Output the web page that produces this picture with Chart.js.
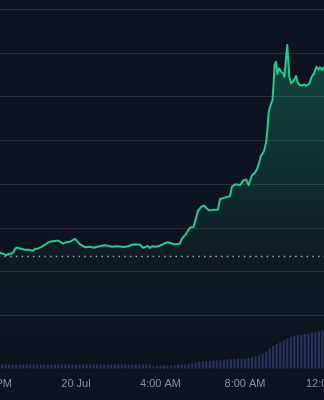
<!DOCTYPE html>
<html><head><meta charset="utf-8">
<script src="https://cdn.jsdelivr.net/npm/chart.js@4.4.1/dist/chart.umd.min.js"></script>
<style>
html,body{margin:0;padding:0;background:#0d1320;overflow:hidden;width:324px;height:400px;}
#wrap{position:absolute;left:-60px;top:0;width:444px;height:400px;}
</style></head><body>
<div id="wrap"><canvas id="c"></canvas></div>
<script>
// minutes relative to 20 Jul 00:00
const times = [-226,-216,-207,-199,-190,-182,-176,-173,-168,-156,-145,-136,-128,-122,-116,-108,-97,-88,-80,-74,-65,-57,-51,-45,-37,-28,-17,-9,-3,3,11,20,28,37,45,51,60,68,80,91,102,114,125,136,148,159,170,182,190,199,204,210,216,224,233,244,253,261,270,278,287,295,301,310,318,325,334,339,346,355,364,369,378,389,403,409,417,429,437,443,452,460,466,476,483,490,494,500,508,514,520,525,534,540,544,547,551,558,561,564,568,572,577,582,588,592,596,600,603,606,611,616,622,625,629,635,642,648,653,662,669,676,683,689,693,699,704,712];
const prices = [104.3,104.35,104.16,103.82,104.16,104.16,104.74,105.35,105.58,105.31,105.08,105.08,104.97,104.85,105.31,105.31,105.77,106.22,106.68,106.91,107.03,107.14,107.14,106.91,106.45,106.80,106.91,107.25,107.60,107.03,106.34,105.88,105.65,105.77,105.65,105.54,105.77,105.88,106.11,106.00,105.77,105.88,105.81,105.72,105.88,106.22,106.34,106.22,105.54,105.77,105.93,105.49,105.88,105.77,105.88,106.22,106.57,106.80,106.57,106.34,106.34,106.50,107.64,108.40,109.43,110.16,110.30,111.83,113.89,114.81,115.19,114.69,114.12,114.16,114.28,116.64,116.86,117.16,117.32,119.45,120.07,119.95,119.84,120.98,121.14,119.84,120.76,122.13,122.65,123.50,124.94,126.48,127.62,129.68,132.88,136.32,137.76,139.29,142.72,147.30,148.05,145.24,146.54,145.81,145.40,144.62,148.44,151.88,147.99,144.55,143.11,143.48,144.32,144.78,143.41,142.72,142.61,142.88,142.56,142.95,144.55,145.40,146.91,146.27,146.77,146.16,146.84,146.6];

const volTimes = [-220,-210,-200,-190,-180,-170,-160,-150,-140,-130,-120,-110,-100,-90,-80,-70,-60,-50,-40,-30,-20,-10,0,10,20,30,40,50,60,70,80,90,100,110,120,130,140,150,160,170,180,190,200,210,220,230,240,250,260,270,280,290,300,310,320,330,340,350,360,370,380,390,400,410,420,430,440,450,460,470,480,490,500,510,520,530,540,550,560,570,580,590,600,610,620,630,640,650,660,670,680,690,700];
const volumes = [43,43,43,43,43,43,43,43,43,43,43,43,43,43,43,43,43,43,43,43,43,43,43,43,43,43,43,43,43,43,43,43,43,43,43,43,43,43,43,43,43,43,43,43,30,30,30,33,33,33,35,40,40,42,50,55,62,70,72,75,78,82,84,86,90,92,95,98,100,100,102,108,113,122,135,148,173,200,227,248,267,285,300,317,332,338,343,348,350,357,365,373,383];

const prevClose = 103.5;
const gridValues = [90,100,110,120,130,140,150,160];
const tickMinutes = [-240,0,240,480,720];
const tickLabels = ['8:00 PM','20 Jul','4:00 AM','8:00 AM','12:00 PM'];

// horizontal calibration: canvas pixel of 20 Jul 00:00 and minutes per pixel
const X0 = 136, MIN_PER_PX = 2.84;
const xMin = -386.2, xMax = 874.7;
const plotH = 368.5;
const yMax = 100 + 271.7/4.37;
const yMin = yMax - plotH/4.37;
const volMax = plotH*10;

const lineData = times.map((t,i)=>({x:t,y:prices[i]}));
const volData = volTimes.map((t,i)=>({x:t,y:volumes[i]}));

function fillGrad(context){
  const {ctx, chartArea} = context.chart;
  if(!chartArea) return 'rgba(0,0,0,0)';
  const g = ctx.createLinearGradient(0, 45, 0, chartArea.bottom);
  g.addColorStop(0, 'rgba(30,190,135,0.30)');
  g.addColorStop(0.45, 'rgba(30,190,135,0.14)');
  g.addColorStop(0.65, 'rgba(30,190,135,0.05)');
  g.addColorStop(1, 'rgba(30,190,135,0.0)');
  return g;
}

const calib = {
  id:'calib',
  afterLayout(chart){
    const a = chart.chartArea, x = chart.scales.x;
    x.min = (a.left - X0)*MIN_PER_PX;
    x.max = (a.right - X0)*MIN_PER_PX;
    x.configure();
  }
};

new Chart(document.getElementById('c'), {
  data: { datasets: [
    { type:'bar', data: volData, yAxisID:'vol', backgroundColor:'#28325e', barPercentage:0.6, categoryPercentage:1, order:0 },
    { type:'line', data:[{x:-2000,y:prevClose},{x:3000,y:prevClose}], borderColor:'#a3a8b3', borderWidth:1.5, borderDash:[1.5,4.2], pointRadius:0, fill:false, order:0 },
    { type:'line', data: lineData, borderColor:'#26c98e', borderWidth:2, pointRadius:0, tension:0, borderJoinStyle:'round', fill:'start', backgroundColor: fillGrad, order:1 }
  ]},
  plugins:[calib],
  options: {
    responsive:true, maintainAspectRatio:false, animation:false,
    layout:{padding:0, autoPadding:false},
    plugins:{legend:{display:false}, tooltip:{enabled:false}},
    scales:{
      x:{ type:'linear', min:xMin, max:xMax, offset:false,
          grid:{display:false, drawTicks:false, offset:false}, border:{display:false},
          afterBuildTicks: s => { s.ticks = tickMinutes.map(v=>({value:v})); },
          ticks:{ padding:9, color:'#8a8f9b', font:{family:'Liberation Sans', size:11}, maxRotation:0, autoSkip:false,
                  callback: v => { const i = tickMinutes.indexOf(v); return i>=0 ? tickLabels[i] : ''; } } },
      y:{ position:'right', min:yMin, max:yMax,
          afterBuildTicks: s => { s.ticks = gridValues.map(v=>({value:v})); },
          afterFit: s => { s.width = 0; },
          ticks:{display:false}, grid:{color:'#2a2e39', lineWidth:1, drawTicks:false}, border:{display:false} },
      vol:{ position:'left', display:false, min:0, max:volMax }
    }
  }
});
</script>
</body></html>
